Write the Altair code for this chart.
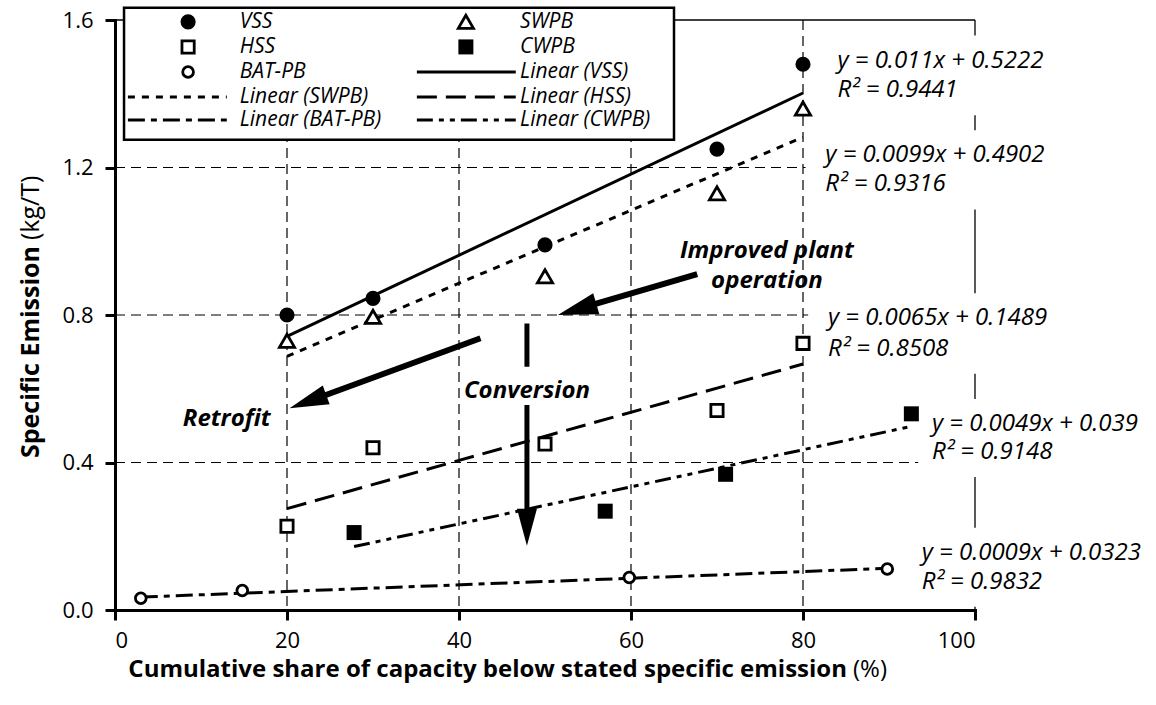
import math
import altair as alt
import pandas as pd

FONT = "Open Sans"

# ---------------- data ----------------
vss_x = [20, 30, 50, 70, 80]
vss_y = [0.80, 0.845, 0.99, 1.25, 1.48]
swpb_x = [20, 30, 50, 70, 80]
swpb_y = [0.73, 0.795, 0.905, 1.13, 1.36]
hss_x = [20, 30, 50, 70, 80]
hss_y = [0.227, 0.44, 0.45, 0.541, 0.723]
cwpb_x = [27.8, 57, 71, 92.6]
cwpb_y = [0.21, 0.268, 0.368, 0.532]
bat_x = [3, 14.8, 59.8, 89.8]
bat_y = [0.032, 0.053, 0.088, 0.111]

# linear trend lines (end points as drawn)
fit_vss_x = [20, 80]
fit_vss_y = [0.742, 1.402]
fit_swpb_x = [20, 80]
fit_swpb_y = [0.688, 1.282]
fit_hss_x = [20, 80]
fit_hss_y = [0.275, 0.667]
fit_cwpb_x = [27.8, 92.6]
fit_cwpb_y = [0.172, 0.498]
fit_bat_x = [3, 89.8]
fit_bat_y = [0.035, 0.113]

eq_labels = ["y = 0.011x + 0.5222", "y = 0.0099x + 0.4902", "y = 0.0065x + 0.1489",
             "y = 0.0049x + 0.039", "y = 0.0009x + 0.0323"]
r2_labels = ["R\u00b2 = 0.9441", "R\u00b2 = 0.9316", "R\u00b2 = 0.8508",
             "R\u00b2 = 0.9148", "R\u00b2 = 0.9832"]
eq_x = [84.0, 82.6, 82.9, 95.0, 93.8]
eq_y = [1.49, 1.233, 0.791, 0.504, 0.155]
r2_y = [1.41, 1.154, 0.709, 0.429, 0.077]
eq_box_left = [81.5, 80.3, 80.6, 93.4, 92.5]

x_ticks = [0, 20, 40, 60, 80, 100]
y_ticks = [0.0, 0.4, 0.8, 1.2, 1.6]
grid_x = [20, 40, 60, 80]
grid_y = [0.4, 0.8, 1.2]

# legend layout (data units)
leg_box_x = [1.05, 65.0]
leg_box_y = [1.275, 1.633]
leg_rows = [1.595, 1.527, 1.459, 1.391, 1.329]
leg_marker_col = [8.5, 40.8]
leg_text_col = [14.5, 47.1]
leg_line_col = [[1.5, 13.0], [35.1, 46.6]]

# annotations
ann_text = ["Improved plant", "operation", "Conversion", "Retrofit"]
ann_x = [75.8, 75.8, 47.9, 18.1]
ann_y = [0.973, 0.893, 0.594, 0.518]
ann_align = ["center", "center", "center", "right"]

arrows = [  # start, tip, head length px, head half width px, shaft width
    {"x0": 67.7, "y0": 0.911, "x1": 51.5, "y1": 0.80, "L": 40, "w": 11, "sw": 6},
    {"x0": 47.9, "y0": 0.777, "x1": 47.9, "y1": 0.174, "L": 37, "w": 10, "sw": 5},
    {"x0": 42.5, "y0": 0.737, "x1": 20.3, "y1": 0.547, "L": 39, "w": 10, "sw": 6},
]

W, H = 860, 590
PXX, PXY = W / 100.0, H / 1.6

xs = alt.Scale(domain=[0, 100], nice=False, zero=False)
ys = alt.Scale(domain=[0, 1.6], nice=False, zero=False)

axis_common = dict(domainColor="black", domainWidth=3, tickColor="black", tickWidth=3,
                   tickSize=10, labelFont=FONT, labelFontSize=22, labelColor="black",
                   grid=False, title=None, domainCap="square")
x_axis = alt.Axis(values=x_ticks, format="d", labelPadding=10, **axis_common)
y_axis = alt.Axis(values=y_ticks, format=".1f", labelPadding=12, **axis_common)


def X(f="x"):
    return alt.X(f + ":Q", scale=xs, axis=x_axis)


def Y(f="y"):
    return alt.Y(f + ":Q", scale=ys, axis=y_axis)


layers = []

# grid lines
layers.append(alt.Chart(pd.DataFrame({"x": grid_x})).mark_rule(
    color="black", strokeWidth=1.2, strokeDash=[10, 6]).encode(
    x=X(), y=alt.value(0), y2=alt.value(H)))
layers.append(alt.Chart(pd.DataFrame({"y": grid_y})).mark_rule(
    color="black", strokeWidth=1.2, strokeDash=[10, 6]).encode(
    y=Y(), x=alt.value(0), x2=alt.value(W)))
# top and right frame lines
layers.append(alt.Chart(pd.DataFrame({"x": [100]})).mark_rule(
    color="black", strokeWidth=1.3).encode(x=X(), y=alt.value(0), y2=alt.value(H)))
layers.append(alt.Chart(pd.DataFrame({"y": [1.6]})).mark_rule(
    color="black", strokeWidth=1.3).encode(y=Y(), x=alt.value(0), x2=alt.value(W)))

# white boxes behind equation labels
box_df = pd.DataFrame({"x": eq_box_left, "x2": [125] * 5,
                       "y": [v + 0.068 for v in eq_y], "y2": [v - 0.068 for v in r2_y]})
layers.append(alt.Chart(box_df).mark_rect(color="white").encode(
    x=X(), x2="x2:Q", y=Y(), y2="y2:Q"))

# legend frame
leg_df = pd.DataFrame({"x": [leg_box_x[0]], "x2": [leg_box_x[1]],
                       "y": [leg_box_y[0]], "y2": [leg_box_y[1]]})
layers.append(alt.Chart(leg_df).mark_rect(fill="white", stroke="black", strokeWidth=2.5).encode(
    x=X(), x2="x2:Q", y=Y(), y2="y2:Q"))

# trend lines (+ legend samples)
line_styles = [
    ("Linear (VSS)", fit_vss_x, fit_vss_y, None, 1, 2),
    ("Linear (SWPB)", fit_swpb_x, fit_swpb_y, [7, 7], 0, 3),
    ("Linear (HSS)", fit_hss_x, fit_hss_y, [20, 9], 1, 3),
    ("Linear (BAT-PB)", fit_bat_x, fit_bat_y, [17, 6, 6, 6], 0, 4),
    ("Linear (CWPB)", fit_cwpb_x, fit_cwpb_y, [16, 6, 5, 6, 5, 6], 1, 4),
]
for name, lx, ly, dash, col, row in line_styles:
    kw = dict(color="black", strokeWidth=3, strokeCap="butt")
    if dash:
        kw["strokeDash"] = dash
    df = pd.DataFrame({"x": lx + leg_line_col[col],
                       "y": ly + [leg_rows[row]] * 2,
                       "g": ["fit", "fit", "leg", "leg"]})
    layers.append(alt.Chart(df).mark_line(**kw).encode(x=X(), y=Y(), detail="g:N"))

# points (+ legend markers)
point_styles = [
    ("VSS", vss_x, vss_y, "circle", True, 230, 0, 0),
    ("SWPB", swpb_x, swpb_y, "triangle-up", False, 230, 1, 0),
    ("HSS", hss_x, hss_y, "square", False, 150, 0, 1),
    ("CWPB", cwpb_x, cwpb_y, "square", True, 225, 1, 1),
    ("BAT-PB", bat_x, bat_y, "circle", False, 115, 0, 2),
]
for name, px, py, shape, filled, size, col, row in point_styles:
    df = pd.DataFrame({"x": px + [leg_marker_col[col]], "y": py + [leg_rows[row]]})
    if filled:
        mk = dict(shape=shape, filled=True, size=size, color="black", opacity=1, strokeWidth=0)
    else:
        mk = dict(shape=shape, filled=False, size=size, color="black", opacity=1,
                  strokeWidth=2.8, fill="white", fillOpacity=1)
    layers.append(alt.Chart(df).mark_point(**mk).encode(x=X(), y=Y()))

# legend labels
leg_lab = pd.DataFrame({
    "t": ["VSS", "SWPB", "HSS", "CWPB", "BAT-PB", "Linear (VSS)", "Linear (SWPB)",
          "Linear (HSS)", "Linear (BAT-PB)", "Linear (CWPB)"],
    "x": [leg_text_col[c] for c in [0, 1, 0, 1, 0, 1, 0, 1, 0, 1]],
    "y": [leg_rows[r] for r in [0, 0, 1, 1, 2, 2, 3, 3, 4, 4]],
})
layers.append(alt.Chart(leg_lab).mark_text(
    align="left", baseline="middle", font=FONT, fontSize=21, fontStyle="italic",
    color="black").encode(x=X(), y=Y(), text="t:N"))

# arrows: shaft + head
for a in arrows:
    dx = (a["x1"] - a["x0"]) * PXX
    dy = -(a["y1"] - a["y0"]) * PXY
    ang = math.degrees(math.atan2(dy, dx))
    rot = (ang + 90) % 360
    back = a["L"] * 0.6
    ex = a["x1"] - math.cos(math.radians(ang)) * back / PXX
    ey = a["y1"] + math.sin(math.radians(ang)) * back / PXY
    sdf = pd.DataFrame({"x": [a["x0"], ex], "y": [a["y0"], ey]})
    layers.append(alt.Chart(sdf).mark_line(color="black", strokeWidth=a["sw"], strokeCap="butt").encode(
        x=X(), y=Y()))
    hw = a["w"] / (a["L"] / 2.0)
    path = "M0,0L%.3f,2L%.3f,2Z" % (hw, -hw)
    hdf = pd.DataFrame({"x": [a["x1"]], "y": [a["y1"]]})
    layers.append(alt.Chart(hdf).mark_point(shape=path, size=a["L"] ** 2, filled=True, color="black",
                                            opacity=1, angle=rot, strokeWidth=0).encode(x=X(), y=Y()))

# white patch behind "Conversion"
layers.append(alt.Chart(pd.DataFrame({"x": [46.3], "x2": [49.5], "y": [0.556], "y2": [0.66]})).mark_rect(
    color="white").encode(x=X(), x2="x2:Q", y=Y(), y2="y2:Q"))

# annotations
ann_df = pd.DataFrame({"t": ann_text, "x": ann_x, "y": ann_y, "a": ann_align})
for al in ["center", "right"]:
    layers.append(alt.Chart(ann_df[ann_df.a == al]).mark_text(
        align=al, baseline="middle", font=FONT, fontSize=24, fontStyle="italic",
        fontWeight="bold", color="black").encode(x=X(), y=Y(), text="t:N"))

# equation labels
eq_df = pd.DataFrame({"t": eq_labels + r2_labels, "x": eq_x + eq_x, "y": eq_y + r2_y})
layers.append(alt.Chart(eq_df).mark_text(
    align="left", baseline="middle", font=FONT, fontSize=24, fontStyle="italic",
    color="black").encode(x=X(), y=Y(), text="t:N"))

# axis titles (bold + regular parts)
t1 = pd.DataFrame({"t": ["Cumulative share of capacity below stated specific emission"]})
t2 = pd.DataFrame({"t": ["(%)"]})
t3 = pd.DataFrame({"t": ["Specific Emission"]})
t4 = pd.DataFrame({"t": ["(kg/T)"]})
layers.append(alt.Chart(t1).mark_text(align="right", baseline="middle", font=FONT, fontSize=24,
                                      fontWeight="bold", color="black").encode(
    text="t:N", x=alt.value(732), y=alt.value(650)))
layers.append(alt.Chart(t2).mark_text(align="left", baseline="middle", font=FONT, fontSize=24,
                                      color="black").encode(
    text="t:N", x=alt.value(738), y=alt.value(650)))
layers.append(alt.Chart(t3).mark_text(align="right", baseline="middle", font=FONT, fontSize=25,
                                      fontWeight="bold", angle=270, color="black").encode(
    text="t:N", x=alt.value(-84), y=alt.value(226)))
layers.append(alt.Chart(t4).mark_text(align="left", baseline="middle", font=FONT, fontSize=25,
                                      angle=270, color="black").encode(
    text="t:N", x=alt.value(-84), y=alt.value(220)))

chart = alt.layer(*layers).properties(
    width=W, height=H,
    autosize=alt.AutoSizeParams(type="none"),
    padding={"left": 115, "top": 20, "right": 181, "bottom": 95},
    background="white",
).configure_view(stroke=None)

chart.save("out.html", embed_options={"renderer": "svg", "actions": False})
